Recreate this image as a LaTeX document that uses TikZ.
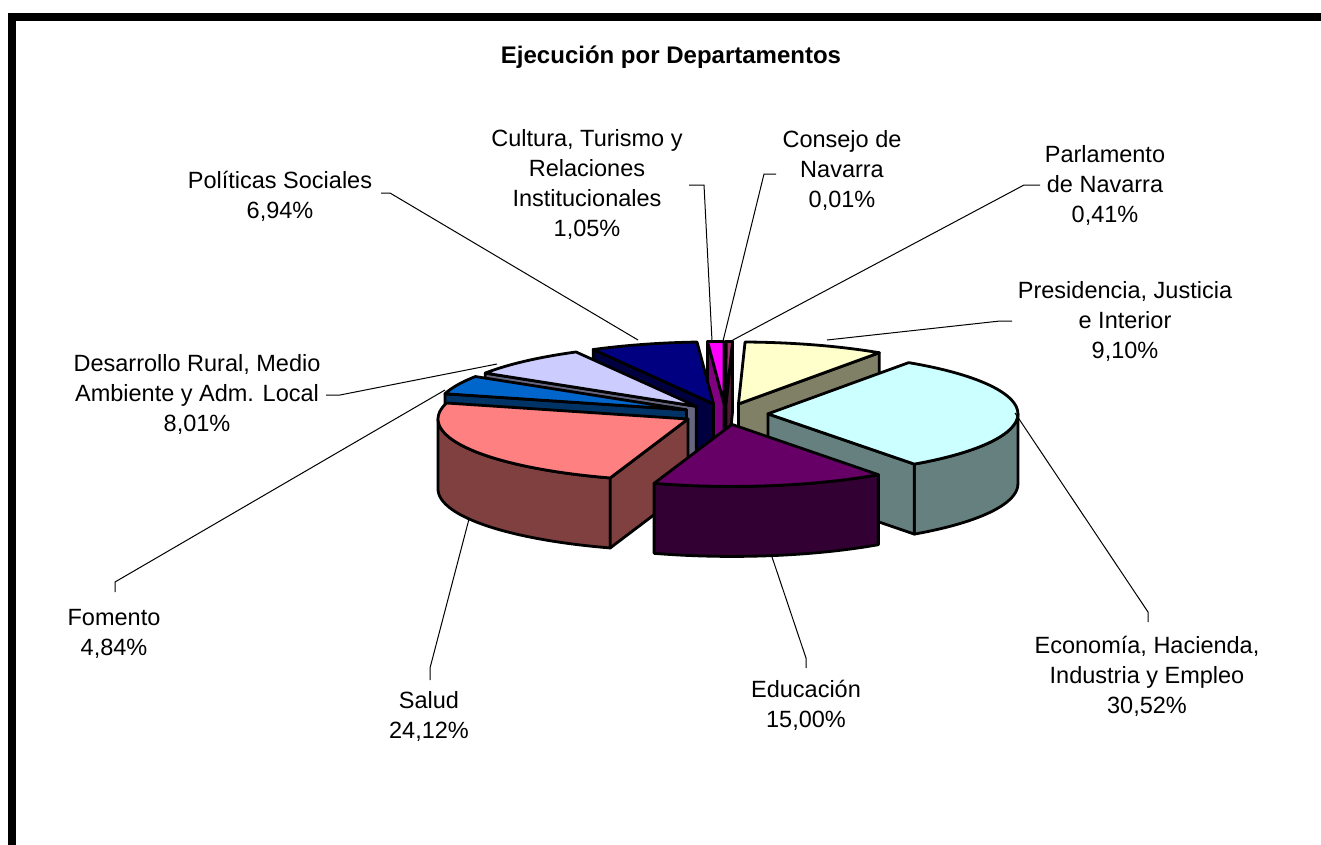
\documentclass[tikz,border=0pt]{standalone}
\usepackage{fontspec}
\setmainfont{Liberation Sans}
\definecolor{cTopA}{HTML}{9999FF}\definecolor{cSideA}{HTML}{4D4D80}
\definecolor{cTopB}{HTML}{993366}\definecolor{cSideB}{HTML}{4D1A33}
\definecolor{cTopC}{HTML}{FFFFCC}\definecolor{cSideC}{HTML}{808066}
\definecolor{cTopD}{HTML}{CCFFFF}\definecolor{cSideD}{HTML}{668080}
\definecolor{cTopE}{HTML}{660066}\definecolor{cSideE}{HTML}{330033}
\definecolor{cTopF}{HTML}{FF8080}\definecolor{cSideF}{HTML}{804040}
\definecolor{cTopG}{HTML}{0066CC}\definecolor{cSideG}{HTML}{003366}
\definecolor{cTopH}{HTML}{CCCCFF}\definecolor{cSideH}{HTML}{666680}
\definecolor{cTopI}{HTML}{000080}\definecolor{cSideI}{HTML}{000040}
\definecolor{cTopJ}{HTML}{FF00FF}\definecolor{cSideJ}{HTML}{800080}
\def\pCx{725.4}\def\pCy{414}\def\pRx{250}\def\pRy{62}\def\pHh{70}\def\pEx{0.17}
\newcommand\pieslice[4]{%
  \pgfmathsetmacro\pBis{(#1+#2)/2}%
  \pgfmathsetmacro\pTx{\pCx+\pEx*\pRx*sin(\pBis)}%
  \pgfmathsetmacro\pTy{\pCy-\pEx*\pRy*cos(\pBis)}%
  \pgfmathsetmacro\pVa{max(#1,90)}%
  \pgfmathsetmacro\pVb{min(#2,270)}%
  \pgfmathtruncatemacro\pVis{\pVb>\pVa}%
  \ifnum\pVis=1
    \filldraw[face, fill=#4] plot[domain=\pVa:\pVb, samples=60] ({\pTx+\pRx*sin(\x)},{\pTy-\pRy*cos(\x)})
      -- plot[domain=\pVb:\pVa, samples=60] ({\pTx+\pRx*sin(\x)},{\pTy+\pHh-\pRy*cos(\x)}) -- cycle;
  \fi
  \pgfmathtruncatemacro\pSv{sin(#1)<-0.0001}%
  \ifnum\pSv=1
    \filldraw[face, fill=#4] (\pTx,\pTy) -- ({\pTx+\pRx*sin(#1)},{\pTy-\pRy*cos(#1)}) -- ++(0,\pHh) -- (\pTx,{\pTy+\pHh}) -- cycle;
  \fi
  \pgfmathtruncatemacro\pEv{sin(#2)>0.0001}%
  \ifnum\pEv=1
    \filldraw[face, fill=#4] (\pTx,\pTy) -- ({\pTx+\pRx*sin(#2)},{\pTy-\pRy*cos(#2)}) -- ++(0,\pHh) -- (\pTx,{\pTy+\pHh}) -- cycle;
  \fi
  \filldraw[face, fill=#3] (\pTx,\pTy) -- plot[domain=#1:#2, samples=60] ({\pTx+\pRx*sin(\x)},{\pTy-\pRy*cos(\x)}) -- cycle;
}
\begin{document}
\begin{tikzpicture}[x=1pt,y=-1pt,
  lbl/.style={align=center, font=\fontsize{23.5}{30}\selectfont, inner sep=0pt},
  ttl/.style={font=\bfseries\fontsize{24}{28}\selectfont, inner sep=0pt},
  leader/.style={draw=black, line width=1pt},
  face/.style={draw=black, line width=2.8pt, line join=round},
]
\useasboundingbox (0,0) rectangle (1321,844);
\fill[white] (0,0) rectangle (1321,844);
\begin{scope}
\clip (0,0) rectangle (1321,844);
\draw[line width=8pt] (12,16.5) rectangle (1345,875);
\end{scope}

\node[ttl] (title) at (671,57) {Ejecución por Departamentos};

% pie slices, back to front
\pieslice{0}{0.036}{cTopA}{cSideA}
\pieslice{0.036}{1.512}{cTopB}{cSideB}
\pieslice{356.22}{360}{cTopJ}{cSideJ}
\pieslice{331.236}{356.22}{cTopI}{cSideI}
\pieslice{1.512}{34.272}{cTopC}{cSideC}
\pieslice{302.4}{331.236}{cTopH}{cSideH}
\pieslice{284.976}{302.4}{cTopG}{cSideG}
\pieslice{34.272}{144.144}{cTopD}{cSideD}
\pieslice{198.144}{284.976}{cTopF}{cSideF}
\pieslice{144.144}{198.144}{cTopE}{cSideE}

% labels
\node[lbl] (pol) at (280,196) {Políticas Sociales\\6,94\%};
\node[lbl] (cul) at (587,184.5) {Cultura, Turismo y\\Relaciones\\Institucionales\\1,05\%};
\node[lbl] (con) at (842,170) {Consejo de\\Navarra\\0,01\%};
\node[lbl] (par) at (1105,185) {Parlamento\\de Navarra\\0,41\%};
\node[lbl] (pre) at (1125,321) {Presidencia, Justicia\\e Interior\\9,10\%};
\node[lbl] (des) at (197,394) {Desarrollo Rural, Medio\\Ambiente y Adm. Local\\8,01\%};
\node[lbl] (fom) at (114,633.5) {Fomento\\4,84\%};
\node[lbl] (sal) at (429,716) {Salud\\24,12\%};
\node[lbl] (edu) at (806,705.5) {Educación\\15,00\%};
\node[lbl] (eco) at (1147,676.5) {Economía, Hacienda,\\Industria y Empleo\\30,52\%};

% leader anchor points
\coordinate (polA) at (381,193); \coordinate (polB) at (390,193); \coordinate (polE) at (638,340);
\coordinate (culA) at (689,185); \coordinate (culB) at (704,185); \coordinate (culE) at (712,341);
\coordinate (conA) at (776,174); \coordinate (conB) at (764,174); \coordinate (conE) at (723,341);
\coordinate (parA) at (1040,185); \coordinate (parB) at (1024,185); \coordinate (parE) at (731,341);
\coordinate (preA) at (1012,321); \coordinate (preB) at (1000,321); \coordinate (preE) at (827,340);
\coordinate (desA) at (326,395); \coordinate (desB) at (340,395); \coordinate (desE) at (497,364);
\coordinate (fomA) at (115,592); \coordinate (fomB) at (115,582); \coordinate (fomE) at (445,390);
\coordinate (salA) at (430,680); \coordinate (salB) at (430,668); \coordinate (salE) at (469,519);
\coordinate (eduA) at (806,668); \coordinate (eduB) at (806,658); \coordinate (eduE) at (772,557);
\coordinate (ecoA) at (1148,622); \coordinate (ecoB) at (1148,612); \coordinate (ecoE) at (1015,413);

\draw[leader] (polA) -- (polB) -- (polE);
\draw[leader] (culA) -- (culB) -- (culE);
\draw[leader] (conA) -- (conB) -- (conE);
\draw[leader] (parA) -- (parB) -- (parE);
\draw[leader] (preA) -- (preB) -- (preE);
\draw[leader] (desA) -- (desB) -- (desE);
\draw[leader] (fomA) -- (fomB) -- (fomE);
\draw[leader] (salA) -- (salB) -- (salE);
\draw[leader] (eduA) -- (eduB) -- (eduE);
\draw[leader] (ecoA) -- (ecoB) -- (ecoE);
\end{tikzpicture}
\end{document}
